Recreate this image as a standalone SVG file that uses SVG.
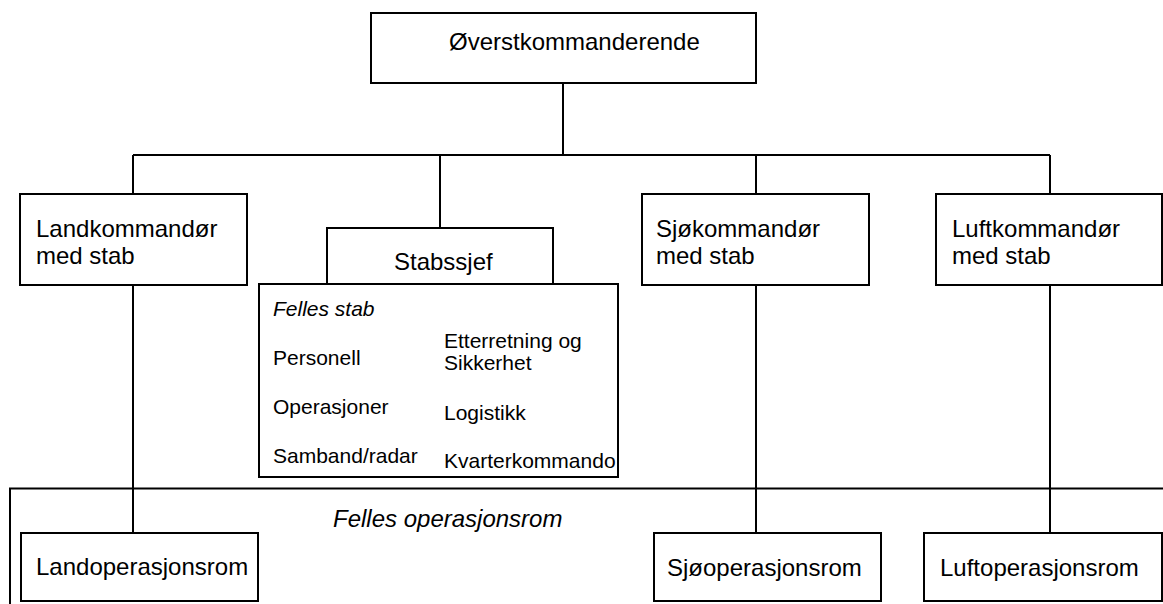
<svg xmlns="http://www.w3.org/2000/svg" width="1163" height="604" viewBox="0 0 1163 604">
<style>
.box{fill:#fff;stroke:#000;stroke-width:2}
.ln{fill:none;stroke:#000;stroke-width:2}
.t{font-family:"Liberation Sans",Arial,sans-serif;font-size:24px;fill:#000}
.s{font-family:"Liberation Sans",Arial,sans-serif;font-size:21px;fill:#000}
.i{font-style:italic}
</style>
<rect width="1163" height="604" fill="#fff"/>
<g id="connectors">
<path class="ln" d="M563,83 V155 M133,155 H1050 M133,155 V194 M440,155 V228 M756,155 V194 M1050,155 V194 M133,285 V533 M756,285 V533 M1050,285 V533"/>
</g>
<g id="felles-operasjonsrom">
<path class="ln" d="M10,606 V488.5 H1166"/>
<text class="t i" x="333" y="527">Felles operasjonsrom</text>
</g>
<g id="overstkommanderende">
<rect class="box" x="371" y="13" width="385" height="70"/>
<text class="t" x="449" y="50">Øverstkommanderende</text>
</g>
<g id="landkommandor">
<rect class="box" x="20" y="194" width="227" height="91"/>
<text class="t" x="36" y="237">Landkommandør</text>
<text class="t" x="36" y="264">med stab</text>
</g>
<g id="stabssjef">
<rect class="box" x="327" y="228" width="226" height="56"/>
<text class="t" x="394" y="270">Stabssjef</text>
</g>
<g id="felles-stab">
<rect class="box" x="259" y="284" width="359" height="193"/>
<text class="s i" x="273" y="316">Felles stab</text>
<text class="s" x="273" y="365">Personell</text>
<text class="s" x="273" y="414">Operasjoner</text>
<text class="s" x="273" y="463">Samband/radar</text>
<text class="s" x="444" y="348">Etterretning og</text>
<text class="s" x="444" y="370">Sikkerhet</text>
<text class="s" x="444" y="420">Logistikk</text>
<text class="s" x="444" y="468">Kvarterkommando</text>
</g>
<g id="sjokommandor">
<rect class="box" x="642" y="194" width="227" height="91"/>
<text class="t" x="656" y="237">Sjøkommandør</text>
<text class="t" x="656" y="264">med stab</text>
</g>
<g id="luftkommandor">
<rect class="box" x="936" y="194" width="226" height="91"/>
<text class="t" x="952" y="237">Luftkommandør</text>
<text class="t" x="952" y="264">med stab</text>
</g>
<g id="landoperasjonsrom">
<rect class="box" x="21" y="533" width="237" height="68"/>
<text class="t" x="36" y="575">Landoperasjonsrom</text>
</g>
<g id="sjooperasjonsrom">
<rect class="box" x="654" y="533" width="227" height="68"/>
<text class="t" x="667" y="576">Sjøoperasjonsrom</text>
</g>
<g id="luftoperasjonsrom">
<rect class="box" x="924" y="533" width="238" height="68"/>
<text class="t" x="940" y="576">Luftoperasjonsrom</text>
</g>
</svg>
